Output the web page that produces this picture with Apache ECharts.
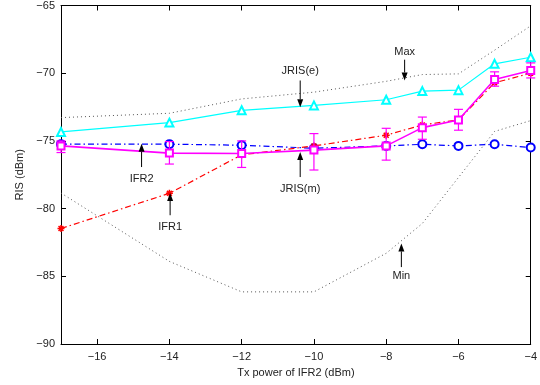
<!DOCTYPE html>
<html>
<head>
<meta charset="utf-8">
<script src="https://cdn.jsdelivr.net/npm/echarts@6/dist/echarts.min.js"></script>
<style>
  html, body { margin: 0; padding: 0; background: #fff; }
  #chart { width: 540px; height: 385px; }
</style>
</head>
<body>
<div id="chart"></div>
<script>
// Tx power of IFR2 (dBm)
const txPower = [-17, -14, -12, -10, -8, -7, -6, -5, -4];

// RIS (dBm) per curve
const risMax    = [-73.28, -72.96, -71.9, -71.4, -70.6, -70.1, -70.05, -68.3, -66.5];
const risMin    = [-78.85, -83.9, -86.15, -86.15, -83.3, -81.1, -77.7, -74.3, -73.5];
const jrisE     = [-74.34, -73.65, -72.74, -72.38, -71.96, -71.32, -71.25, -69.31, -68.82];
const jrisM     = [-75.37, -75.9, -75.93, -75.68, -75.37, -74.02, -73.45, -70.46, -69.8];
const jrisMLow  = [-75.86, -76.71, -76.96, -77.15, -76.42, -74.88, -74.21, -70.96, -70.35];
const jrisMHigh = [-75.0, -75.05, -75.0, -74.46, -74.07, -73.24, -72.67, -69.9, -69.24];
const ifr1      = [-81.47, -78.87, -76.03, -75.37, -74.58, -73.82, -73.45, -70.71, -70.0];
const ifr2      = [-75.24, -75.24, -75.32, -75.54, -75.37, -75.25, -75.37, -75.25, -75.49];

// annotations: label, x, arrow tail, arrow tip, label y (all in data units)
const annoText  = ['Max', 'JRIS(e)', 'JRIS(m)', 'IFR2', 'IFR1', 'Min'];
const annoX     = [-7.49, -10.38, -10.38, -14.77, -13.98, -7.58];
const annoTail  = [-69.0, -70.54, -77.67, -76.93, -80.49, -84.32];
const annoTip   = [-70.54, -72.51, -75.82, -75.21, -78.84, -82.57];
const annoLabY  = [-68.46, -69.86, -78.52, -77.84, -81.35, -84.98];

const zip = (xs, ys) => xs.map((x, i) => [x, ys[i]]);
const minus = v => String(v).replace('-', '\u2212');
const FONT = 'Liberation Sans, Arial, Helvetica, sans-serif';
const dashDot = [6, 3, 1.5, 3];
const asterisk = 'path://M0,5L10,5M5,0L5,10M1.5,1.5L8.5,8.5M8.5,1.5L1.5,8.5';

const chart = echarts.init(document.getElementById('chart'), null, { renderer: 'canvas' });

const tickStyle = { inside: true, length: 5, lineStyle: { color: '#000', width: 1 } };
const lineAxis = { lineStyle: { color: '#000', width: 1 } };

chart.setOption({
  animation: false,
  backgroundColor: '#fff',
  textStyle: { fontFamily: FONT },
  grid: { left: 61, right: 3, top: 5, bottom: 41, containLabel: false },
  xAxis: [
    {
      type: 'value', min: -17, max: -4, splitNumber: 6, minInterval: 2, maxInterval: 2,
      name: 'Tx power of IFR2 (dBm)', nameLocation: 'middle', nameGap: 23,
      nameTextStyle: { color: '#222', fontSize: 11, fontFamily: FONT },
      axisLine: lineAxis, axisTick: tickStyle, splitLine: { show: false },
      axisLabel: { color: '#222', fontSize: 11, margin: 7, fontFamily: FONT, showMinLabel: false, formatter: minus }
    },
    {
      type: 'value', position: 'top', min: -17, max: -4, splitNumber: 6, minInterval: 2, maxInterval: 2,
      axisLine: lineAxis, axisTick: tickStyle, splitLine: { show: false }, axisLabel: { show: false }
    }
  ],
  yAxis: [
    {
      type: 'value', min: -90, max: -65, interval: 5,
      name: 'RIS (dBm)', nameLocation: 'middle', nameGap: 34,
      nameTextStyle: { color: '#222', fontSize: 11, fontFamily: FONT },
      axisLine: lineAxis, axisTick: tickStyle, splitLine: { show: false },
      axisLabel: { color: '#222', fontSize: 11, margin: 6, fontFamily: FONT, formatter: minus }
    },
    {
      type: 'value', position: 'right', min: -90, max: -65, interval: 5,
      axisLine: lineAxis, axisTick: tickStyle, splitLine: { show: false }, axisLabel: { show: false }
    }
  ],
  series: [
    {
      name: 'Max', type: 'line', data: zip(txPower, risMax), symbol: 'none',
      lineStyle: { color: '#555', width: 1, type: [1, 3] }, z: 1
    },
    {
      name: 'Min', type: 'line', data: zip(txPower, risMin), symbol: 'none',
      lineStyle: { color: '#555', width: 1, type: [1, 3] }, z: 1
    },
    {
      name: 'JRIS(e)', type: 'line', data: zip(txPower, jrisE),
      symbol: 'emptyTriangle', symbolSize: 8,
      lineStyle: { color: '#00ffff', width: 1.2 },
      itemStyle: { color: '#00ffff', borderColor: '#00ffff', borderWidth: 1 }, z: 3
    },
    {
      name: 'IFR2', type: 'line', data: zip(txPower, ifr2),
      symbol: 'emptyCircle', symbolSize: 8,
      lineStyle: { color: '#0000ff', width: 1.2, type: dashDot },
      itemStyle: { color: '#0000ff', borderColor: '#0000ff', borderWidth: 1 }, z: 3
    },
    {
      name: 'IFR1', type: 'line', data: zip(txPower, ifr1),
      symbol: asterisk, symbolSize: 7,
      lineStyle: { color: '#ff0000', width: 1.2, type: dashDot },
      itemStyle: { color: '#ff0000', borderColor: '#ff0000', borderWidth: 1.5 }, z: 4
    },
    {
      name: 'JRIS(m) error', type: 'custom',
      data: txPower.map((x, i) => [x, jrisMLow[i], jrisMHigh[i]]),
      encode: { x: 0, y: [1, 2] },
      renderItem: (params, api) => {
        const lo = api.coord([api.value(0), api.value(1)]);
        const hi = api.coord([api.value(0), api.value(2)]);
        const w = 4.5;
        const style = { stroke: '#ff00ff', lineWidth: 1.2 };
        return {
          type: 'group',
          children: [
            { type: 'line', shape: { x1: lo[0], y1: lo[1], x2: hi[0], y2: hi[1] }, style },
            { type: 'line', shape: { x1: lo[0] - w, y1: lo[1], x2: lo[0] + w, y2: lo[1] }, style },
            { type: 'line', shape: { x1: hi[0] - w, y1: hi[1], x2: hi[0] + w, y2: hi[1] }, style }
          ]
        };
      },
      z: 5
    },
    {
      name: 'JRIS(m)', type: 'line', data: zip(txPower, jrisM),
      symbol: 'emptyRect', symbolSize: 7,
      lineStyle: { color: '#ff00ff', width: 1.6 },
      itemStyle: { color: '#ff00ff', borderColor: '#ff00ff', borderWidth: 1 }, z: 6
    }
  ]
});

// arrows + labels, placed through the axis scales
const px = (x, y) => chart.convertToPixel({ xAxisIndex: 0, yAxisIndex: 0 }, [x, y]);
const graphics = [];
annoText.forEach((t, i) => {
  const tail = px(annoX[i], annoTail[i]);
  const tip = px(annoX[i], annoTip[i]);
  const lab = px(annoX[i], annoLabY[i]);
  const dir = tip[1] > tail[1] ? 1 : -1;
  const headLen = 8, headW = 3;
  graphics.push({
    type: 'line', silent: true, z: 20,
    shape: { x1: tail[0], y1: tail[1], x2: tip[0], y2: tip[1] - dir * headLen },
    style: { stroke: '#000', lineWidth: 1 }
  });
  graphics.push({
    type: 'polygon', silent: true, z: 20,
    shape: { points: [[tip[0], tip[1]], [tip[0] - headW, tip[1] - dir * headLen], [tip[0] + headW, tip[1] - dir * headLen]] },
    style: { fill: '#000' }
  });
  graphics.push({
    type: 'text', silent: true, z: 20, x: lab[0], y: lab[1],
    style: { text: t, fill: '#222', font: '11px ' + FONT, align: 'center', verticalAlign: 'middle' }
  });
});
chart.setOption({ graphic: graphics });
</script>
</body>
</html>
